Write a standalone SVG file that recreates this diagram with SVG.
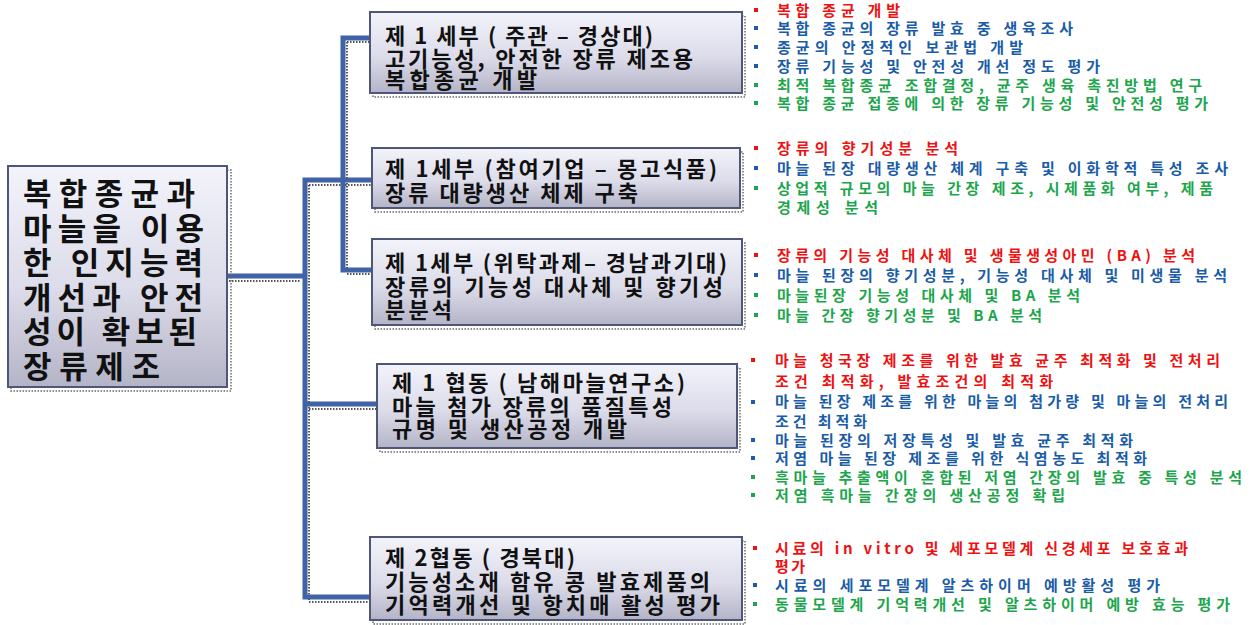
<svg xmlns="http://www.w3.org/2000/svg" width="1254" height="625" viewBox="0 0 1254 625">
<defs>
<linearGradient id="g" x1="0" y1="0" x2="0" y2="1">
<stop offset="0" stop-color="#f3f3fb"/>
<stop offset="0.55" stop-color="#dcdcea"/>
<stop offset="1" stop-color="#b4b4c8"/>
</linearGradient>
<style>
.box{fill:url(#g);stroke:#50557a;stroke-width:2}
.sh{fill:none;stroke:#6a6a6a;stroke-width:1.5;stroke-dasharray:1.5 1.5}
.bt{font-family:"Noto Sans CJK KR","Noto Sans",sans-serif;font-weight:bold;font-size:22px;fill:#111}
.lt{font-family:"Noto Sans CJK KR","Noto Sans",sans-serif;font-weight:bold;font-size:31px;fill:#111}
.li{font-family:"Noto Sans CJK KR","Noto Sans",sans-serif;font-weight:bold;font-size:15px}
.r{fill:#ee1111}.b{fill:#1a5ca8}.gr{fill:#1ca64c}
.c{fill:none;stroke:#3f63a6;stroke-width:5;stroke-linecap:square}
.cs{fill:none;stroke:#555;stroke-width:2;stroke-dasharray:1.5 1.5}
</style>
</defs>
<rect width="1254" height="625" fill="#fff"/>

<g id="connectors">
<path class="cs" d="M229 281 H300 M309 185 V600 M309 185 H372 M309 409 H377 M309 602 H370 M347 42 V272 M347 42 H370 M347 274 H372"/>
<path class="c" d="M227 276 H305 M305 180 V597 M305 180 H372 M305 404 H377 M305 597 H370 M343 38 V270 M343 38 H370 M343 270 H372"/>
</g>

<g id="root">
<rect class="sh" x="11" y="170" width="220" height="221"/>
<rect class="box" x="8" y="166" width="219" height="221"/>
<text class="lt" x="23" y="205" textLength="172" lengthAdjust="spacing">복합종균과</text>
<text class="lt" x="23" y="240" textLength="181" lengthAdjust="spacing">마늘을 이용</text>
<text class="lt" x="23" y="274" textLength="180" lengthAdjust="spacing">한 인지능력</text>
<text class="lt" x="23" y="309" textLength="180" lengthAdjust="spacing">개선과 안전</text>
<text class="lt" x="23" y="343" textLength="174" lengthAdjust="spacing">성이 확보된</text>
<text class="lt" x="23" y="378" textLength="137" lengthAdjust="spacing">장류제조</text>
</g>

<g id="n1">
<rect class="sh" x="373" y="16" width="372" height="81"/>
<rect class="box" x="370" y="12" width="372" height="81"/>
<text class="bt" x="385" y="44" textLength="268" lengthAdjust="spacing">제 1 세부 ( 주관 – 경상대)</text>
<text class="bt" x="385" y="67" textLength="308" lengthAdjust="spacing">고기능성, 안전한 장류 제조용</text>
<text class="bt" x="385" y="88" textLength="152" lengthAdjust="spacing">복합종균 개발</text>
</g>
<g id="l1">
<rect class="r" x="754" y="8" width="4" height="4"/>
<rect class="b" x="754" y="26" width="4" height="4"/>
<rect class="b" x="754" y="45" width="4" height="4"/>
<rect class="b" x="754" y="64" width="4" height="4"/>
<rect class="gr" x="754" y="83" width="4" height="4"/>
<rect class="gr" x="754" y="101" width="4" height="4"/>
<text class="li r" x="777" y="16" textLength="123" lengthAdjust="spacing">복합 종균 개발</text>
<text class="li b" x="777" y="34" textLength="296" lengthAdjust="spacing">복합 종균의 장류 발효 중 생육조사</text>
<text class="li b" x="777" y="53" textLength="246" lengthAdjust="spacing">종균의 안정적인 보관법 개발</text>
<text class="li b" x="777" y="72" textLength="323" lengthAdjust="spacing">장류 기능성 및 안전성 개선 정도 평가</text>
<text class="li gr" x="777" y="91" textLength="425" lengthAdjust="spacing">최적 복합종균 조합결정, 균주 생육 촉진방법 연구</text>
<text class="li gr" x="777" y="109" textLength="431" lengthAdjust="spacing">복합 종균 접종에 의한 장류 기능성 및 안전성 평가</text>
</g>

<g id="n2">
<rect class="sh" x="375" y="152" width="368" height="60"/>
<rect class="box" x="372" y="148" width="368" height="60"/>
<text class="bt" x="385" y="177" textLength="332" lengthAdjust="spacing">제 1세부 (참여기업 – 몽고식품)</text>
<text class="bt" x="385" y="201" textLength="253" lengthAdjust="spacing">장류 대량생산 체제 구축</text>
</g>
<g id="l2">
<rect class="r" x="754" y="146" width="4" height="4"/>
<rect class="b" x="754" y="166" width="4" height="4"/>
<rect class="gr" x="754" y="186" width="4" height="4"/>
<text class="li r" x="777" y="154" textLength="181" lengthAdjust="spacing">장류의 향기성분 분석</text>
<text class="li b" x="777" y="174" textLength="451" lengthAdjust="spacing">마늘 된장 대량생산 체계 구축 및 이화학적 특성 조사</text>
<text class="li gr" x="777" y="194" textLength="436" lengthAdjust="spacing">상업적 규모의 마늘 간장 제조, 시제품화 여부, 제품</text>
<text class="li gr" x="777" y="213" textLength="101" lengthAdjust="spacing">경제성 분석</text>
</g>

<g id="n3">
<rect class="sh" x="375" y="243" width="370" height="86"/>
<rect class="box" x="372" y="239" width="370" height="86"/>
<text class="bt" x="385" y="271" textLength="342" lengthAdjust="spacing">제 1세부 (위탁과제– 경남과기대)</text>
<text class="bt" x="385" y="295" textLength="338" lengthAdjust="spacing">장류의 기능성 대사체 및 향기성</text>
<text class="bt" x="385" y="318" textLength="67" lengthAdjust="spacing">분분석</text>
</g>
<g id="l3">
<rect class="r" x="754" y="253" width="4" height="4"/>
<rect class="b" x="754" y="273" width="4" height="4"/>
<rect class="gr" x="754" y="293" width="4" height="4"/>
<rect class="gr" x="754" y="313" width="4" height="4"/>
<text class="li r" x="777" y="261" textLength="418" lengthAdjust="spacing">장류의 기능성 대사체 및 생물생성아민 (BA) 분석</text>
<text class="li b" x="777" y="281" textLength="450" lengthAdjust="spacing">마늘 된장의 향기성분, 기능성 대사체 및 미생물 분석</text>
<text class="li gr" x="777" y="301" textLength="303" lengthAdjust="spacing">마늘된장 기능성 대사체 및 BA 분석</text>
<text class="li gr" x="777" y="321" textLength="265" lengthAdjust="spacing">마늘 간장 향기성분 및 BA 분석</text>
</g>

<g id="n4">
<rect class="sh" x="380" y="368" width="360" height="84"/>
<rect class="box" x="377" y="364" width="360" height="84"/>
<text class="bt" x="392" y="391" textLength="293" lengthAdjust="spacing">제 1 협동 ( 남해마늘연구소)</text>
<text class="bt" x="392" y="415" textLength="280" lengthAdjust="spacing">마늘 첨가 장류의 품질특성</text>
<text class="bt" x="392" y="437" textLength="235" lengthAdjust="spacing">규명 및 생산공정 개발</text>
</g>
<g id="l4">
<rect class="r" x="751" y="358" width="4" height="4"/>
<rect class="b" x="751" y="400" width="4" height="4"/>
<rect class="b" x="751" y="438" width="4" height="4"/>
<rect class="b" x="751" y="456" width="4" height="4"/>
<rect class="gr" x="751" y="475" width="4" height="4"/>
<rect class="gr" x="751" y="493" width="4" height="4"/>
<text class="li r" x="775" y="366" textLength="445" lengthAdjust="spacing">마늘 청국장 제조를 위한 발효 균주 최적화 및 전처리</text>
<text class="li r" x="775" y="387" textLength="278" lengthAdjust="spacing">조건 최적화, 발효조건의 최적화</text>
<text class="li b" x="775" y="407" textLength="453" lengthAdjust="spacing">마늘 된장 제조를 위한 마늘의 첨가량 및 마늘의 전처리</text>
<text class="li b" x="775" y="427" textLength="92" lengthAdjust="spacing">조건 최적화</text>
<text class="li b" x="775" y="446" textLength="358" lengthAdjust="spacing">마늘 된장의 저장특성 및 발효 균주 최적화</text>
<text class="li b" x="775" y="464" textLength="372" lengthAdjust="spacing">저염 마늘 된장 제조를 위한 식염농도 최적화</text>
<text class="li gr" x="775" y="483" textLength="467" lengthAdjust="spacing">흑마늘 추출액이 혼합된 저염 간장의 발효 중 특성 분석</text>
<text class="li gr" x="775" y="501" textLength="290" lengthAdjust="spacing">저염 흑마늘 간장의 생산공정 확립</text>
</g>

<g id="n5">
<rect class="sh" x="373" y="541" width="372" height="83"/>
<rect class="box" x="370" y="537" width="372" height="83"/>
<text class="bt" x="385" y="566" textLength="190" lengthAdjust="spacing">제 2협동 ( 경북대)</text>
<text class="bt" x="385" y="590" textLength="325" lengthAdjust="spacing">기능성소재 함유 콩 발효제품의</text>
<text class="bt" x="385" y="613" textLength="335" lengthAdjust="spacing">기억력개선 및 항치매 활성 평가</text>
</g>
<g id="l5">
<rect class="r" x="753" y="546" width="4" height="4"/>
<rect class="b" x="753" y="583" width="4" height="4"/>
<rect class="gr" x="753" y="602" width="4" height="4"/>
<text class="li r" x="775" y="554" textLength="413" lengthAdjust="spacing">시료의 in vitro 및 세포모델계 신경세포 보호효과</text>
<text class="li r" x="775" y="572" textLength="30" lengthAdjust="spacing">평가</text>
<text class="li b" x="775" y="591" textLength="385" lengthAdjust="spacing">시료의 세포모델계 알츠하이머 예방활성 평가</text>
<text class="li gr" x="775" y="610" textLength="455" lengthAdjust="spacing">동물모델계 기억력개선 및 알츠하이머 예방 효능 평가</text>
</g>
</svg>
